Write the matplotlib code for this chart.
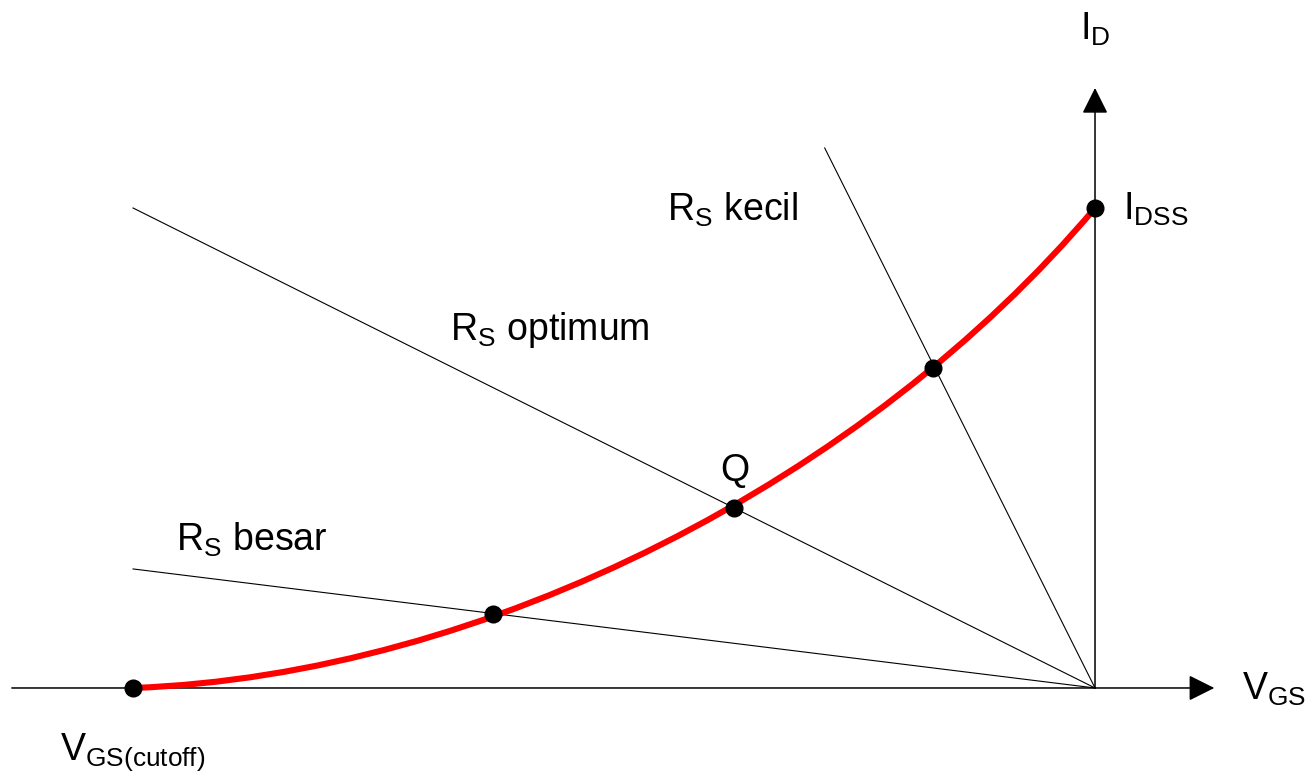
import matplotlib.pyplot as plt
from matplotlib.path import Path
from matplotlib.patches import PathPatch

plt.rcParams['font.family'] = 'Liberation Sans'
plt.rcParams['mathtext.fontset'] = 'custom'
plt.rcParams['mathtext.rm'] = 'Liberation Sans'
plt.rcParams['mathtext.it'] = 'Liberation Sans'

# transfer curve as a cubic Bezier (VGS / |VGS(cutoff)|, ID / IDSS),
# control points fitted to points
curve_v = [-1.0, -0.632, -0.237, 0.0]
curve_i = [0.0, 0.027, 0.437, 1.0]

# bias lines, each from its far end to the origin
rs_names = ["kecil", "optimum", "besar"]
rs_start_v = [-0.281, -1.0, -1.0]
rs_start_i = [1.125, 1.0, 0.248]

# marked points
pt_v = [-1.0, -0.626, -0.375, -0.168, 0.0]
pt_i = [0.0, 0.154, 0.375, 0.667, 1.0]

# axis extents
x_axis = (-1.126, 0.124)
y_axis = (0.0, 1.25)

fig = plt.figure(figsize=(13.13, 7.74), dpi=100)
ax = fig.add_axes([0, 0, 1, 1])
ax.set_xlim(-1.1383, 0.2266)
ax.set_ylim(-0.1792, 1.4333)
ax.axis("off")

arrow = dict(arrowstyle="-|>,head_length=0.8,head_width=0.4", color="black",
             lw=1.1, shrinkA=0, shrinkB=0, mutation_scale=20)
ax.annotate("", xy=(x_axis[1], 0), xytext=(x_axis[0], 0), arrowprops=arrow, zorder=1)
ax.annotate("", xy=(0, y_axis[1]), xytext=(0, y_axis[0]), arrowprops=arrow, zorder=1)

for v0, i0 in zip(rs_start_v, rs_start_i):
    ax.plot([v0, 0], [i0, 0], color="black", lw=0.8, zorder=2)

curve = Path(list(zip(curve_v, curve_i)),
             [Path.MOVETO, Path.CURVE4, Path.CURVE4, Path.CURVE4])
ax.add_patch(PathPatch(curve, facecolor="none", edgecolor="#ff0000", lw=4.4,
                       capstyle="butt", zorder=3))
ax.plot(pt_v, pt_i, "o", color="black", markersize=12, zorder=4)

fs = 27
ax.text(-0.0156, 1.35, r"$\mathrm{I_D}$", fontsize=fs, va="baseline")
ax.text(0.0291, 0.975, r"$\mathrm{I_{DSS}}$", fontsize=fs, va="baseline")
ax.text(0.153, -0.025, r"$\mathrm{V_{GS}}$", fontsize=fs, va="baseline")
ax.text(-1.076, -0.15, r"$\mathrm{V_{GS(cutoff)}}$", fontsize=fs, va="baseline")
ax.text(-0.445, 0.973, r"$\mathrm{R_S\ kecil}$", fontsize=fs, va="baseline")
ax.text(-0.670, 0.725, r"$\mathrm{R_S\ optimum}$", fontsize=fs, va="baseline")
ax.text(-0.955, 0.285, r"$\mathrm{R_S\ besar}$", fontsize=fs, va="baseline")
ax.text(-0.390, 0.431, "Q", fontsize=fs, va="baseline")

fig.savefig("out.png", dpi=100)
